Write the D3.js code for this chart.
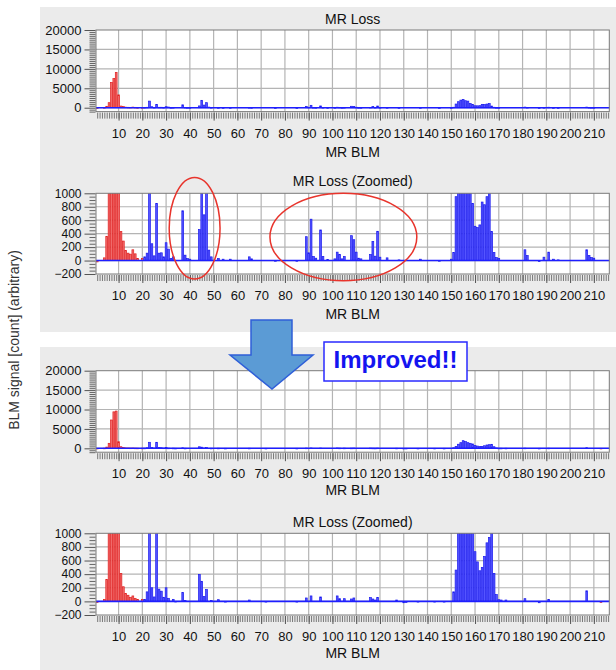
<!DOCTYPE html>
<html>
<head>
<meta charset="utf-8">
<script src="https://cdn.jsdelivr.net/npm/d3@7"></script>
<style>
  body { margin: 0; background: #fff; }
  svg { display: block; font-family: "Liberation Sans", Arial, sans-serif; }
</style>
</head>
<body>
<svg id="chart" width="616" height="670"></svg>
<script>
// BLM numbers along the ring
const blmIds = d3.range(1, 217);

// Loss per BLM before the improvement (rows of 10 BLMs)
const lossBefore = [
  -20, 0, 0, 40, 360, 1300, 6500, 7500, 9100, 3300,
  430, 290, 150, 110, 95, 160, 100, 30, 0, 30,
  55, 110, 1700, 250, 70, 850, 110, 115, 55, 265,
  170, 30, 55, 0, 0, 0, 740, 80, 30, 20,
  0, 0, 0, 460, 1900, 680, 1300, 155, 55, 0,
  0, 30, 0, 20, 0, 0, 20, 0, 0, 0,
  0, 0, 0, 0, 55, 25, 0, 0, 0, 0,
  0, 0, 0, 0, 0, -10, 0, 0, 0, 0,
  0, 0, 0, 0, -10, 0, 0, 0, 355, 115,
  615, 60, 35, 0, 455, 60, 0, 15, 0, 0,
  25, 125, 90, 25, 60, 0, 0, 370, 310, 125,
  35, 25, 0, 0, 0, 90, 285, 65, 435, 50,
  0, 0, 40, 0, 0, 0, 0, 10, 0, 0,
  0, 0, 0, 0, 0, 0, 20, 0, 0, 0,
  0, 0, 0, 0, -10, 0, 0, 0, 0, 20,
  120, 950, 1550, 1950, 2150, 1800, 1700, 1100, 850, 510,
  490, 530, 870, 830, 950, 1050, 430, 120, 45, 30,
  0, 0, 0, 0, 0, 0, 0, 0, 0, 0,
  160, 75, 0, 0, 0, 0, -15, 0, 50, 0,
  125, 0, 20, 0, 10, 0, 0, 0, 0, 0,
  0, 0, 0, 0, 0, 0, 160, 75, 45, 35,
  0, 0, 0, 0, 0, 0
];

// Loss per BLM after the improvement
const lossAfter = [
  -15, 0, 0, 30, 320, 1290, 7300, 9400, 9600, 1700,
  410, 215, 115, 90, 60, 80, 45, 30, 0, 30,
  30, 140, 1550, 200, 65, 1550, 180, 150, 60, 200,
  45, 0, 30, -5, 0, 0, 130, 15, 0, 0,
  0, 0, 0, 395, 295, 70, 175, 0, 15, 0,
  0, 25, 0, 0, -10, 0, 0, 0, 0, 0,
  0, 0, 0, 0, 20, 0, 0, 0, 0, 0,
  0, -10, 0, 0, 0, 0, 0, 0, 0, 0,
  0, 0, 0, 0, -10, 0, 0, 0, 50, 0,
  80, 0, 0, 0, 65, 0, 0, 0, 0, 0,
  0, 80, 40, 0, 40, 0, 0, 35, 50, 0,
  0, 0, 0, 0, 0, 55, 35, 20, 55, 0,
  0, 0, 0, 0, 0, 0, 20, 0, 0, -20,
  -15, 0, 0, 0, 0, -10, 0, 0, 0, 0,
  0, 0, -10, 0, 0, 0, -10, 0, 0, 0,
  140, 460, 1050, 1460, 1970, 1720, 1460, 1290, 1120, 730,
  580, 450, 500, 660, 860, 940, 1030, 410, 100, 25,
  20, 0, 20, 0, 0, 0, 0, 0, 0, 0,
  40, 0, 0, 0, 0, 0, -20, 0, 0, 0,
  30, 0, 0, 0, 0, 0, 0, 0, 0, 0,
  0, 0, 0, 0, 0, 0, 155, 0, 0, 0,
  0, 0, -15, 0, 0, 0
];

// BLM ranges drawn in red (injection area)
const redRanges = [[1, 20], [213, 216]];

const fullTicks = [0, 5000, 10000, 15000, 20000];
const zoomTicks = [-200, 0, 200, 400, 600, 800, 1000];
const xTickLabels = d3.range(10, 220, 10);

// third panel's title is hidden under the call-out in the slide
const panelTitles = ["MR Loss", "MR Loss (Zoomed)", null, "MR Loss (Zoomed)"];
const xTitle = "MR BLM";
const yTitle = "BLM signal [count] (arbitrary)";
const noteText = "Improved!!";

// Red circles on the zoomed "before" plot: centre (BLM, value), radii (BLM, value)
const circledRegions = [
  { blm: 42, value: 480, rBlm: 10.7, rValue: 755 },
  { blm: 104.6, value: 350, rBlm: 30.9, rValue: 650 }
];

const svg = d3.select("#chart");

// gray slide panels
svg.append("rect").attr("x", 40).attr("y", 7).attr("width", 576).attr("height", 325).attr("fill", "#ebebeb");
svg.append("rect").attr("x", 40).attr("y", 347).attr("width", 576).attr("height", 323).attr("fill", "#ebebeb");

const x = d3.scaleLinear().domain([0.5, 216.5]).range([96, 609.3]);

const charts = [
  { title: panelTitles[0], values: lossBefore, domain: [-1000, 20000], ticks: fullTicks, minor: 500, top: 30, bottom: 111.6, titleY: 20, labelY: 153, yFont: 13 },
  { title: panelTitles[1], values: lossBefore, domain: [-200, 1000], ticks: zoomTicks, minor: 50, top: 193.3, bottom: 274, titleY: 182, labelY: 315, yFont: 12, circles: true },
  { title: panelTitles[2], values: lossAfter, domain: [-1000, 20000], ticks: fullTicks, minor: 500, top: 370.7, bottom: 452.2, titleY: 361, labelY: 491, yFont: 13 },
  { title: panelTitles[3], values: lossAfter, domain: [-200, 1000], ticks: zoomTicks, minor: 50, top: 533.3, bottom: 615, titleY: 523, labelY: 654, yFont: 12 }
];

const isRed = id => redRanges.some(([a, b]) => id >= a && id <= b);

charts.forEach((c, ci) => {
  const y = d3.scaleLinear().domain(c.domain).range([c.bottom, c.top]);
  const g = svg.append("g");
  const [x0, x1] = x.range();

  g.append("rect")
    .attr("x", x0).attr("y", c.top)
    .attr("width", x1 - x0).attr("height", c.bottom - c.top)
    .attr("fill", "#fff");

  // grid
  g.selectAll(".vgrid").data(xTickLabels).join("line")
    .attr("x1", d => x(d)).attr("x2", d => x(d))
    .attr("y1", c.top).attr("y2", c.bottom)
    .attr("stroke", "#b4b4b4").attr("stroke-width", 1.2);
  g.selectAll(".hgrid").data(c.ticks.filter(t => t > c.domain[0] && t < c.domain[1])).join("line")
    .attr("x1", x0).attr("x2", x1)
    .attr("y1", d => y(d)).attr("y2", d => y(d))
    .attr("stroke", "#b4b4b4").attr("stroke-width", 1.2);

  // bars
  const clipId = "clip" + ci;
  g.append("clipPath").attr("id", clipId).append("rect")
    .attr("x", x0).attr("y", c.top).attr("width", x1 - x0).attr("height", c.bottom - c.top);

  const bars = blmIds.map((id, i) => ({ id, v: c.values[i] })).filter(d => d.v !== 0);
  g.append("g").attr("clip-path", `url(#${clipId})`)
    .selectAll("rect").data(bars).join("rect")
    .attr("x", d => x(d.id) - 0.9)
    .attr("width", 1.8)
    .attr("y", d => Math.min(y(d.v), y(0)))
    .attr("height", d => Math.max(0.6, Math.abs(y(d.v) - y(0))))
    .attr("fill", d => isRed(d.id) ? "#f06a6a" : "#5555ff")
    .attr("stroke", d => isRed(d.id) ? "#e02020" : "#1a1aee")
    .attr("stroke-width", 0.7);

  // zero line
  g.append("line")
    .attr("x1", x0).attr("x2", x1)
    .attr("y1", y(0)).attr("y2", y(0))
    .attr("stroke", "#1e1eff").attr("stroke-width", 1.6);

  g.append("rect")
    .attr("x", x0).attr("y", c.top)
    .attr("width", x1 - x0).attr("height", c.bottom - c.top)
    .attr("fill", "none").attr("stroke", "#7a7a7a").attr("stroke-width", 1);

  // y axis: minor + major
  const minorVals = d3.range(c.domain[0], c.domain[1] + 1, c.minor).filter(v => !c.ticks.includes(v));
  g.append("g").attr("transform", `translate(${x0 - 0.5},0)`)
    .call(d3.axisLeft(y).tickValues(minorVals).tickSize(6).tickFormat(""))
    .call(a => a.select(".domain").remove())
    .selectAll("line").attr("stroke", "#666");
  const yAx = g.append("g").attr("transform", `translate(${x0 - 0.5},0)`)
    .call(d3.axisLeft(y).tickValues(c.ticks).tickSize(11).tickPadding(3).tickFormat(d3.format("d")))
    .call(a => a.select(".domain").remove());
  yAx.selectAll("line").attr("stroke", "#555");
  yAx.selectAll("text").attr("font-size", c.yFont).attr("fill", "#111")
    .attr("font-family", "Liberation Sans, Arial, sans-serif");

  // x axis: comb of BLM ticks + labelled decades
  g.append("g").attr("transform", `translate(0,${c.bottom + 1})`)
    .call(d3.axisBottom(x).tickValues(blmIds).tickSize(6).tickFormat(""))
    .call(a => a.select(".domain").remove())
    .selectAll("line").attr("stroke", "#777");
  const xAx = g.append("g").attr("transform", `translate(0,${c.bottom + 1})`)
    .call(d3.axisBottom(x).tickValues(xTickLabels).tickSize(8).tickPadding(8).tickFormat(d3.format("d")))
    .call(a => a.select(".domain").remove());
  xAx.selectAll("line").attr("stroke", "#555");
  xAx.selectAll("text").attr("font-size", 13).attr("fill", "#111")
    .attr("font-family", "Liberation Sans, Arial, sans-serif");

  if (c.title) {
    g.append("text")
      .attr("x", (x0 + x1) / 2).attr("y", c.titleY)
      .attr("text-anchor", "middle").attr("dominant-baseline", "middle")
      .attr("font-size", 14).attr("fill", "#111")
      .text(c.title);
  }
  g.append("text")
    .attr("x", (x0 + x1) / 2).attr("y", c.labelY)
    .attr("text-anchor", "middle").attr("dominant-baseline", "middle")
    .attr("font-size", 14).attr("fill", "#111")
    .text(xTitle);

  if (c.circles) {
    g.selectAll(".ring").data(circledRegions).join("ellipse")
      .attr("cx", d => x(d.blm))
      .attr("cy", d => y(d.value))
      .attr("rx", d => x(d.blm + d.rBlm) - x(d.blm))
      .attr("ry", d => y(d.value - d.rValue) - y(d.value))
      .attr("fill", "none").attr("stroke", "#e8342c").attr("stroke-width", 1.5);
  }
});

// shared y title
svg.append("text")
  .attr("transform", "translate(15,340) rotate(-90)")
  .attr("text-anchor", "middle").attr("dominant-baseline", "middle")
  .attr("font-size", 14).attr("fill", "#333")
  .text(yTitle);

// down arrow
svg.append("polygon")
  .attr("points", "251,320 292,320 292,355 313,355 272,389 230,355 251,355")
  .attr("fill", "#5b9bd5").attr("stroke", "#2f5fd8").attr("stroke-width", 1.5);

// "Improved!!" call-out
svg.append("rect")
  .attr("x", 324).attr("y", 342).attr("width", 143).attr("height", 39)
  .attr("fill", "#fff").attr("stroke", "#2a2aff").attr("stroke-width", 1.5);
svg.append("text")
  .attr("x", 395.5).attr("y", 362)
  .attr("text-anchor", "middle").attr("dominant-baseline", "middle")
  .attr("font-size", 24).attr("font-weight", "bold").attr("fill", "#1414f0")
  .text(noteText);
</script>
</body>
</html>
